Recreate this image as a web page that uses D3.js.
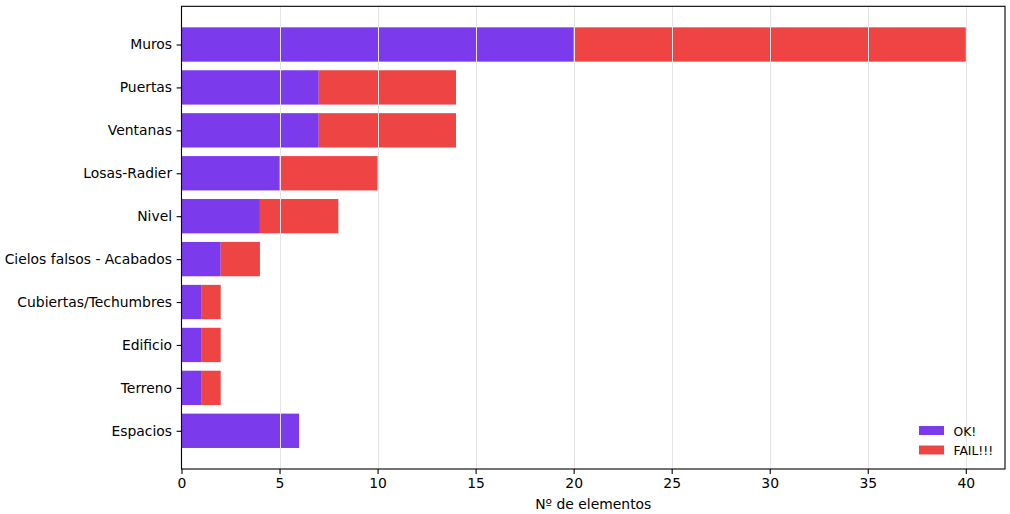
<!DOCTYPE html>
<html><head><meta charset="utf-8">
<script src="https://cdn.jsdelivr.net/npm/d3@7"></script>
<style>body{margin:0;background:#fff}svg{display:block}text{font-family:"DejaVu Sans",sans-serif;fill:#000}</style>
</head><body><svg id="c" width="1010" height="514"></svg>
<script>
const categories = ["Muros","Puertas","Ventanas","Losas-Radier","Nivel","Cielos falsos - Acabados","Cubiertas/Techumbres","Edificio","Terreno","Espacios"];
const okValues   = [20,7,7,5,4,2,1,1,1,6];
const failValues = [20,7,7,5,4,2,1,1,1,0];
const xTicks = [0,5,10,15,20,25,30,35,40];
const seriesNames = ["OK!","FAIL!!!"];
const colors = ["#7c3aed","#ef4444"];

const svg = d3.select("#c");
const L=181.5, T=6.3, R=1005, B=469;
const x = d3.scaleLinear().domain([0,42]).range([L,R]);
const y = d3.scaleLinear().domain([-0.89, 9.89]).range([T,B]);
const bh = y(0.8)-y(0);

const g = svg.append("g");
categories.forEach((c,i)=>{
  g.append("rect").attr("x",x(0)).attr("y",y(i-0.4)).attr("width",x(okValues[i])-x(0)).attr("height",bh).attr("fill",colors[0]);
  if (failValues[i]>0)
    g.append("rect").attr("x",x(okValues[i])).attr("y",y(i-0.4)).attr("width",x(okValues[i]+failValues[i])-x(okValues[i])).attr("height",bh).attr("fill",colors[1]);
});
// grid on top
svg.append("g").selectAll("line").data(xTicks.slice(1)).join("line")
  .attr("x1",d=>Math.round(x(d))+0.5).attr("x2",d=>Math.round(x(d))+0.5).attr("y1",T).attr("y2",B)
  .attr("stroke","#e4e4e4").attr("stroke-width",1);

// frame
svg.append("rect").attr("x",L).attr("y",T).attr("width",R-L).attr("height",B-T).attr("fill","none").attr("stroke","#000").attr("stroke-width",1.1);

// x axis
const xa = svg.append("g").attr("transform",`translate(0,${B})`)
  .call(d3.axisBottom(x).tickValues(xTicks).tickSize(4.9).tickPadding(4.5));
xa.select(".domain").remove();
xa.selectAll("text").style("font-size","13.9px").style("font-family","DejaVu Sans");
xa.selectAll("line").attr("stroke","#000").attr("stroke-width",1.1);

// y axis
const ya = svg.append("g").attr("transform",`translate(${L},0)`)
  .call(d3.axisLeft(y).tickValues(d3.range(categories.length)).tickFormat(i=>categories[i]).tickSize(4.9).tickPadding(4.5));
ya.select(".domain").remove();
ya.selectAll("text").style("font-size","13.9px").style("font-family","DejaVu Sans");
ya.selectAll("line").attr("stroke","#000").attr("stroke-width",1.1);

svg.append("text").attr("x",(L+R)/2).attr("y",509).attr("text-anchor","middle").style("font-size","13.9px").text("Nº de elementos");

// legend
const lg = svg.append("g");
seriesNames.forEach((n,i)=>{
  lg.append("rect").attr("x",919).attr("y",426+i*19.5).attr("width",25).attr("height",9).attr("fill",colors[i]);
  lg.append("text").attr("x",953.5).attr("y",435.5+i*19.5).style("font-size","12.3px").text(n);
});
</script></body></html>
